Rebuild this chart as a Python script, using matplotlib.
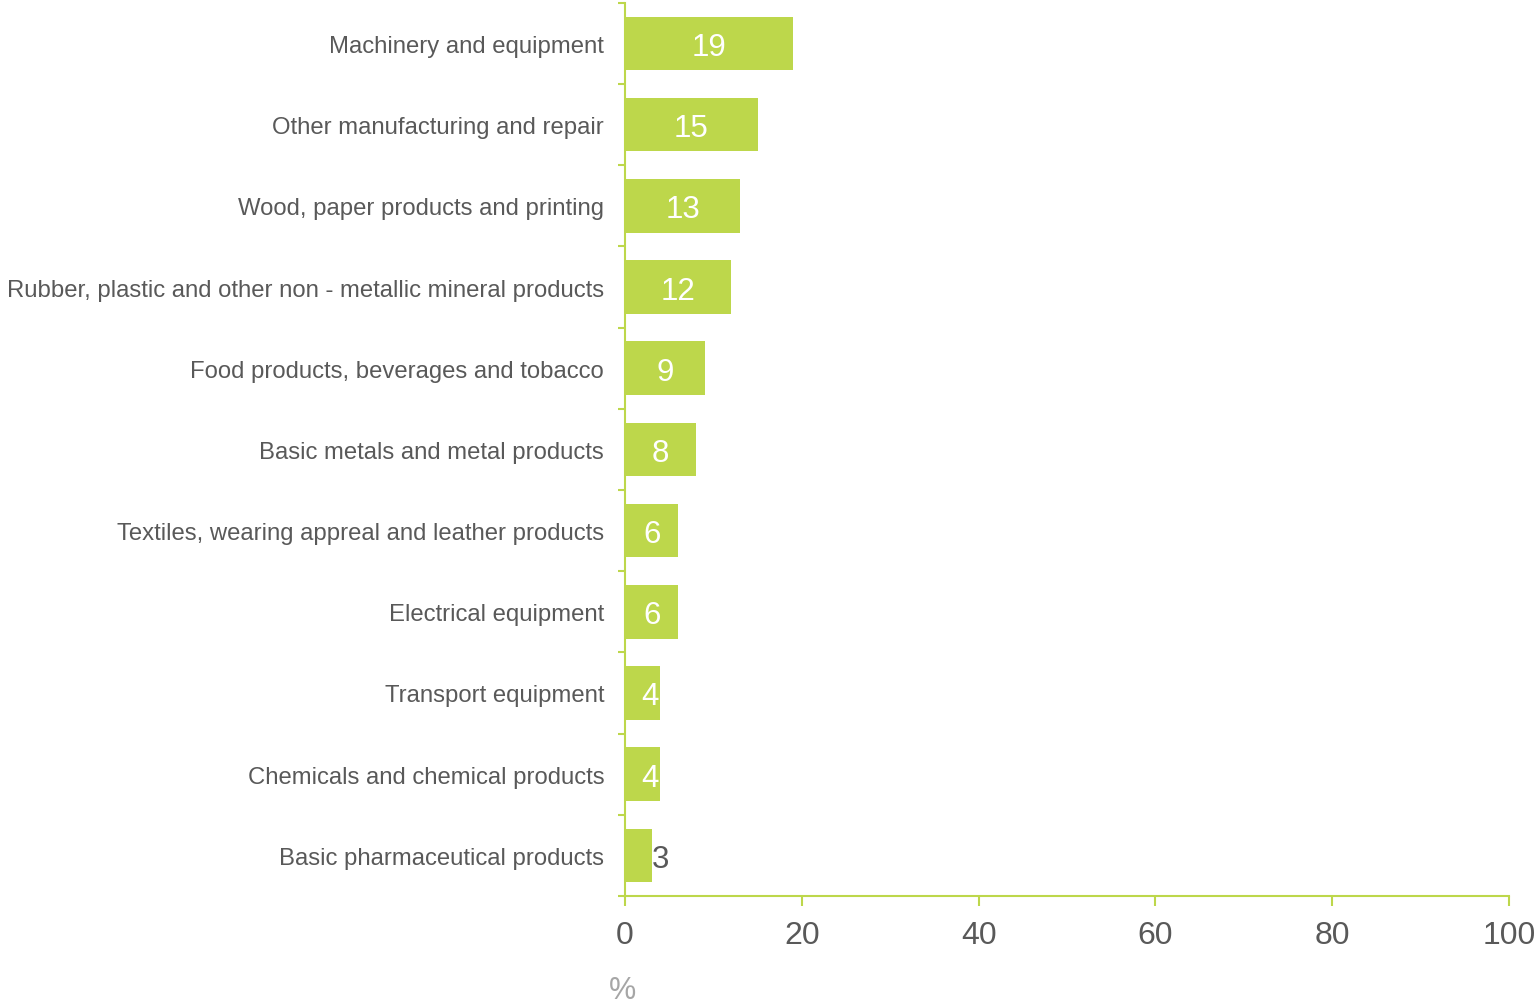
import matplotlib.pyplot as plt
from matplotlib.ticker import FixedLocator

plt.rcParams['font.family'] = ['Liberation Sans', 'DejaVu Sans']

# industries, top to bottom, with share in percent
industries = [
    "Machinery and equipment",
    "Other manufacturing and repair",
    "Wood, paper products and printing",
    "Rubber, plastic and other non - metallic mineral products",
    "Food products, beverages and tobacco",
    "Basic metals and metal products",
    "Textiles, wearing appreal and leather products",
    "Electrical equipment",
    "Transport equipment",
    "Chemicals and chemical products",
    "Basic pharmaceutical products",
]
shares = [19, 15, 13, 12, 9, 8, 6, 6, 4, 4, 3]
xticks = [0, 20, 40, 60, 80, 100]

green = "#bdd74b"
grey = "#595959"

fig = plt.figure(figsize=(15.38, 10.03), dpi=100)
ax = fig.add_axes([0.4064, 0.1057, 0.5748, 0.8905])

n = len(industries)
ypos = list(range(n - 1, -1, -1))
ax.barh(ypos, shares, height=0.66, color=green, zorder=2)

for y, v in zip(ypos, shares):
    if v <= 3:
        ax.text(v, y, str(v), ha='left', va='center_baseline', fontsize=22.5, color=grey)
    else:
        ax.text(max(v / 2, 2.85), y, str(v), ha='center', va='center_baseline',
                fontsize=22.5, color='white')

ax.set_xlim(0, 100)
ax.set_ylim(-0.5, n - 0.5)
ax.set_xticks(xticks)
ax.set_xticklabels([str(t) for t in xticks])
ax.set_yticks(ypos)
ax.set_yticklabels(industries)
ax.yaxis.set_minor_locator(FixedLocator([i - 0.5 for i in range(n + 1)]))

ax.tick_params(axis='y', which='major', length=0, pad=15, labelsize=17.2, labelcolor=grey)
ax.tick_params(axis='y', which='minor', length=5, width=1.5, color=green, direction='out')
ax.tick_params(axis='x', which='major', length=7, width=1.5, color=green, direction='out',
               pad=10, labelsize=23, labelcolor=grey)

for side in ['top', 'right']:
    ax.spines[side].set_visible(False)
for side in ['left', 'bottom']:
    ax.spines[side].set_color(green)
    ax.spines[side].set_linewidth(1.5)

ax.text(-0.003, -0.105, "%", transform=ax.transAxes, ha='center', va='center',
        fontsize=22, color='#a6a6a6')

fig.savefig("out.png", dpi=100)
